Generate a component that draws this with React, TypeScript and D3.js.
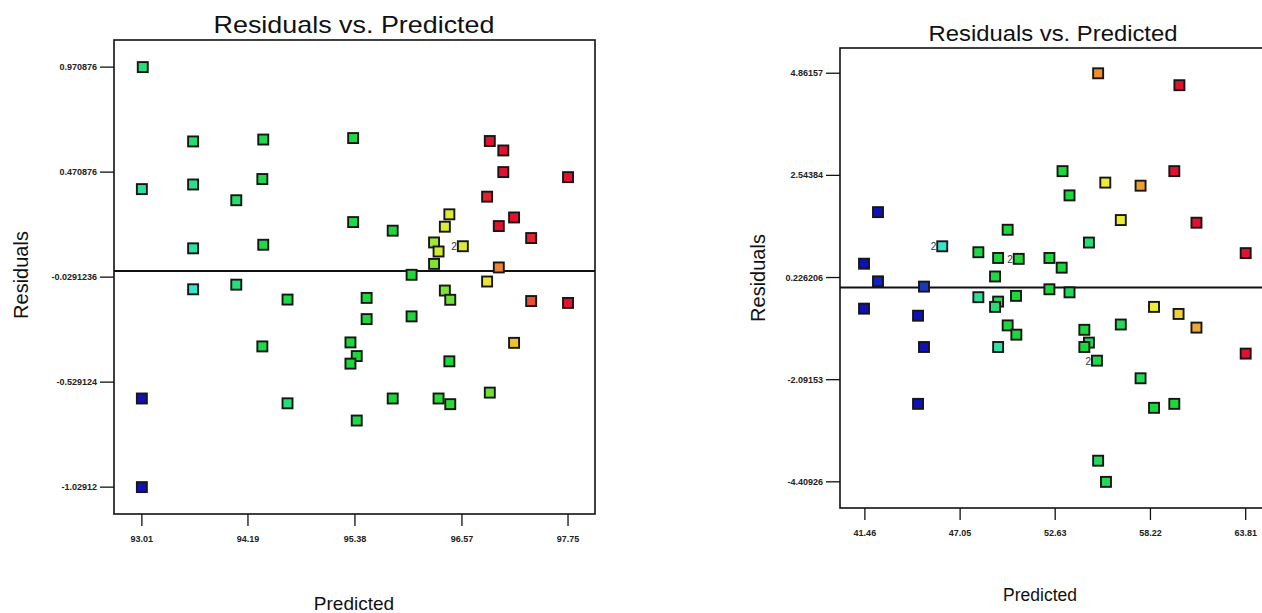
import React from 'react';
import * as d3 from 'd3';

// ---- left panel data ----
const leftPredicted = [
  93.02, 93.01, 93.58, 93.58, 93.58, 93.58, 94.06, 94.06, 94.36, 94.35,
  94.36, 94.35, 94.63, 94.63, 95.36, 95.36, 95.33, 95.40, 95.33, 95.51,
  95.51, 95.40, 95.80, 95.80, 96.01, 96.01, 96.26, 96.31, 96.26, 96.38,
  96.43, 96.58, 96.38, 96.44, 96.43, 96.31, 96.44, 96.85, 96.88, 96.88,
  97.03, 97.03, 96.85, 97.15, 96.98, 97.34, 96.98, 97.15, 97.34, 97.75,
  97.75, 93.01, 93.01,
];
const leftResiduals = [
  0.971, 0.39, 0.617, 0.412, 0.108, -0.087, 0.337, -0.065, 0.626, 0.438,
  0.125, -0.359, -0.136, -0.63, 0.633, 0.233, -0.34, -0.405, -0.441, -0.128,
  -0.229, -0.712, 0.192, -0.607, -0.018, -0.216, 0.136, 0.093, 0.034, 0.211,
  0.27, 0.118, -0.093, -0.137, -0.43, -0.607, -0.634, -0.05, -0.579, 0.619,
  0.574, 0.471, 0.354, 0.255, 0.214, 0.157, 0.017, -0.342, -0.143, 0.447,
  -0.152, -0.607, -1.029,
];
// colour level of each run (0 = low response, 1 = high)
const leftLevel = [
  0.4, 0.35, 0.42, 0.37, 0.33, 0.27, 0.42, 0.4, 0.47, 0.47,
  0.47, 0.47, 0.48, 0.4, 0.48, 0.48, 0.5, 0.5, 0.5, 0.5,
  0.5, 0.48, 0.5, 0.5, 0.5, 0.5, 0.66, 0.72, 0.62, 0.73,
  0.73, 0.73, 0.62, 0.6, 0.5, 0.52, 0.52, 0.76, 0.6, 1,
  1, 1, 0.98, 1, 1, 0.98, 0.87, 0.8, 0.93, 1,
  1, 0, 0,
];
const leftRepeated = [31];
const leftXTicks = [93.01, 94.19, 95.38, 96.57, 97.75];
const leftXTickLabels = ['93.01', '94.19', '95.38', '96.57', '97.75'];
const leftYTicks = [0.970876, 0.470876, -0.0291236, -0.529124, -1.02912];
const leftYTickLabels = ['0.970876', '0.470876', '-0.0291236', '-0.529124', '-1.02912'];

// ---- right panel data ----
const rightPredicted = [
  55.15, 59.92, 53.06, 59.62, 55.57, 57.64, 53.47, 42.23, 56.48, 60.92,
  49.84, 54.61, 46.0, 48.12, 49.28, 50.49, 52.29, 63.81, 41.41, 53.01,
  49.1, 42.23, 44.93, 52.29, 53.47, 48.12, 50.33, 49.28, 49.1, 41.41,
  58.43, 59.87, 44.58, 60.92, 56.48, 49.84, 50.35, 54.34, 54.61, 54.34,
  44.93, 49.28, 55.08, 63.81, 57.64, 58.43, 59.62, 44.58, 55.15, 55.61,
];
const rightResiduals = [
  4.86, 4.59, 2.64, 2.64, 2.38, 2.31, 2.09, 1.71, 1.53, 1.47,
  1.31, 1.02, 0.935, 0.8, 0.67, 0.65, 0.67, 0.78, 0.54, 0.45,
  0.25, 0.14, 0.02, -0.04, -0.11, -0.22, -0.19, -0.32, -0.44, -0.48,
  -0.44, -0.6, -0.64, -0.91, -0.84, -0.86, -1.07, -0.96, -1.25, -1.35,
  -1.35, -1.35, -1.66, -1.5, -2.06, -2.73, -2.64, -2.64, -3.93, -4.41,
];
const rightLevel = [
  0.86, 1, 0.5, 1, 0.75, 0.84, 0.5, 0, 0.75, 1,
  0.5, 0.4, 0.27, 0.48, 0.5, 0.5, 0.5, 1, 0, 0.5,
  0.48, 0.02, 0.05, 0.5, 0.45, 0.35, 0.5, 0.45, 0.4, 0,
  0.75, 0.78, 0, 0.83, 0.45, 0.5, 0.5, 0.5, 0.45, 0.5,
  0, 0.33, 0.47, 1, 0.45, 0.5, 0.5, 0, 0.45, 0.45,
];
const rightRepeated = [12, 15, 42];
const rightXTicks = [41.46, 47.05, 52.63, 58.22, 63.81];
const rightXTickLabels = ['41.46', '47.05', '52.63', '58.22', '63.81'];
const rightYTicks = [4.86157, 2.54384, 0.226206, -2.09153, -4.40926];
const rightYTickLabels = ['4.86157', '2.54384', '0.226206', '-2.09153', '-4.40926'];

const levelColor = d3.scaleLinear<string>()
  .domain([0, 0.25, 0.5, 0.75, 0.87, 1])
  .range(['#1010b8', '#38e4d8', '#1cd83a', '#ecec34', '#ec8434', '#e41030']);

const tickFont = '"Liberation Sans Narrow", "Liberation Sans", Arial, sans-serif';
const labelFont = '"Liberation Sans", Arial, sans-serif';

type PanelProps = {
  xs: number[]; ys: number[]; levels: number[]; repeated: number[];
  xTicks: number[]; xTickLabels: string[]; yTicks: number[]; yTickLabels: string[];
  xDomain: [number, number]; yDomain: [number, number];
  box: { left: number; right: number; top: number; bottom: number };
  title: { x: number; y: number; size: number; len: number };
  xLabel: { x: number; y: number; size: number };
  yLabel: { x: number; y: number; size: number };
  marker: number;
};

function Panel(p: PanelProps) {
  const x = d3.scaleLinear().domain(p.xDomain).range([p.box.left, p.box.right]);
  const y = d3.scaleLinear().domain(p.yDomain).range([p.box.bottom, p.box.top]);
  const m = p.marker;
  return (
    <g>
      <text x={p.title.x} y={p.title.y} textAnchor="middle" fontFamily={labelFont}
        fontSize={p.title.size} textLength={p.title.len} lengthAdjust="spacingAndGlyphs" fill="#111">
        Residuals vs. Predicted
      </text>
      <rect x={p.box.left} y={p.box.top} width={p.box.right - p.box.left}
        height={p.box.bottom - p.box.top} fill="#fff" stroke="#111" strokeWidth={1.6} />
      {p.yTicks.map((t, i) => (
        <g key={'y' + i}>
          <line x1={p.box.left - 14} x2={p.box.left} y1={y(t)} y2={y(t)} stroke="#111" strokeWidth={1.3} />
          <text x={p.box.left - 17} y={y(t) + 3} textAnchor="end" fontFamily={tickFont}
            fontSize={9} fontWeight={600} fill="#222">{p.yTickLabels[i]}</text>
        </g>
      ))}
      {p.xTicks.map((t, i) => (
        <g key={'x' + i}>
          <line x1={x(t)} x2={x(t)} y1={p.box.bottom} y2={p.box.bottom + 12} stroke="#111" strokeWidth={1.3} />
          <text x={x(t)} y={p.box.bottom + 28} textAnchor="middle" fontFamily={tickFont}
            fontSize={9} fontWeight={600} fill="#222">{p.xTickLabels[i]}</text>
        </g>
      ))}
      <line x1={p.box.left} x2={p.box.right} y1={y(0)} y2={y(0)} stroke="#111" strokeWidth={1.8} />
      {p.xs.map((v, i) => (
        <rect key={'p' + i} x={x(v) - m / 2} y={y(p.ys[i]) - m / 2} width={m} height={m}
          fill={levelColor(p.levels[i])} stroke="#161616" strokeWidth={1.9} />
      ))}
      {p.repeated.map(i => (
        <text key={'r' + i} x={x(p.xs[i]) - m / 2 - 1} y={y(p.ys[i]) + 4} textAnchor="end"
          fontFamily={labelFont} fontSize={10} fill="#333">2</text>
      ))}
      <text x={p.xLabel.x} y={p.xLabel.y} textAnchor="middle" fontFamily={labelFont}
        fontSize={p.xLabel.size} fill="#111">Predicted</text>
      <text transform={`translate(${p.yLabel.x},${p.yLabel.y}) rotate(-90)`} textAnchor="middle"
        fontFamily={labelFont} fontSize={p.yLabel.size} fill="#111">Residuals</text>
    </g>
  );
}

export default function App() {
  return (
    <svg width={1262} height={613} style={{ position: 'absolute', left: 0, top: 0, background: '#fff' }}>
      <rect width={1262} height={613} fill="#fff" />
      <Panel
        xs={leftPredicted} ys={leftResiduals} levels={leftLevel} repeated={leftRepeated}
        xTicks={leftXTicks} xTickLabels={leftXTickLabels} yTicks={leftYTicks} yTickLabels={leftYTickLabels}
        xDomain={[92.7, 98.05]} yDomain={[-1.157, 1.1]}
        box={{ left: 114, right: 595, top: 40, bottom: 514 }}
        title={{ x: 354, y: 33, size: 24, len: 281 }}
        xLabel={{ x: 354, y: 610, size: 19 }}
        yLabel={{ x: 28, y: 275, size: 20 }}
        marker={10}
      />
      <Panel
        xs={rightPredicted} ys={rightResiduals} levels={rightLevel} repeated={rightRepeated}
        xTicks={rightXTicks} xTickLabels={rightXTickLabels} yTicks={rightYTicks} yTickLabels={rightYTickLabels}
        xDomain={[40.0, 65.53]} yDomain={[-5.003, 5.434]}
        box={{ left: 840, right: 1275, top: 48, bottom: 508 }}
        title={{ x: 1053, y: 41, size: 22, len: 249 }}
        xLabel={{ x: 1040, y: 601, size: 17.5 }}
        yLabel={{ x: 765, y: 278, size: 20 }}
        marker={10}
      />
    </svg>
  );
}
